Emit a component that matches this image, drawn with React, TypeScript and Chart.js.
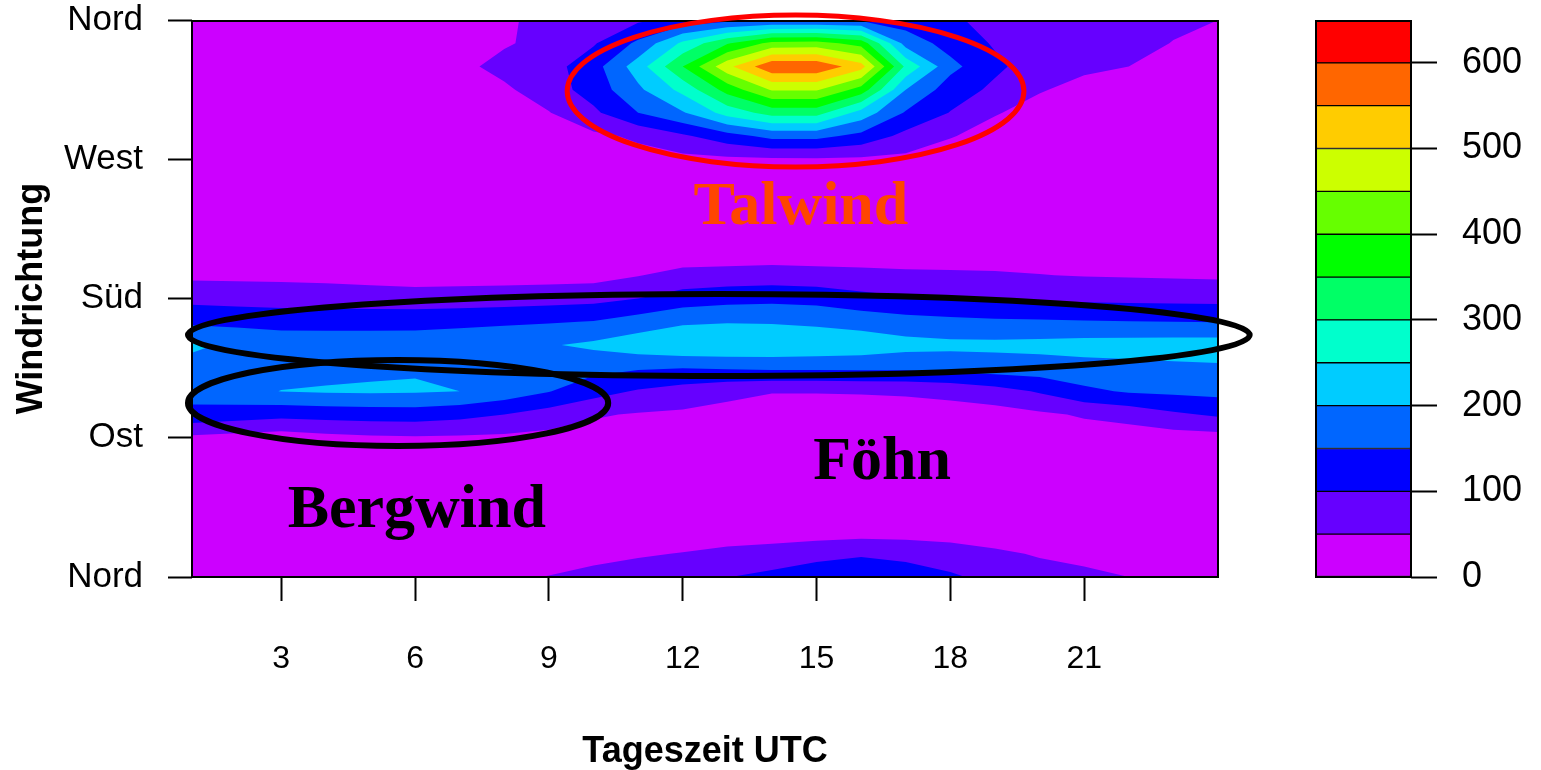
import { useEffect, useRef } from 'react';
import { Chart, registerables } from 'chart.js';

Chart.register(...registerables);

// Hour of day (UTC) on the horizontal axis
const hours = [1, 2, 3, 4, 5, 6, 7, 8, 9, 10, 11, 12, 13, 14, 15, 16, 17, 18, 19, 20, 21, 22, 23, 24];
// Wind direction rows in degrees (0 = Nord, 90 = Ost, 180 = Süd, 270 = West)
const directions = [0, 15, 30, 45, 60, 75, 90, 105, 120, 135, 150, 165, 180, 195, 210, 225, 240, 255, 270, 285, 300, 315, 330, 345, 360];

// Frequency counts per direction row, one value per hour
const d000 = [20, 20, 22, 25, 30, 35, 40, 45, 51, 60, 72, 88, 99, 112, 125, 132, 122, 106, 88, 72, 60, 50, 43, 38];
const d015 = [18, 18, 19, 21, 24, 27, 30, 32, 35, 40, 45, 52, 64, 72, 86, 95, 88, 78, 60, 45, 38, 32, 28, 25];
const d030 = [16, 16, 17, 18, 19, 20, 21, 22, 22, 21, 20, 20, 20, 21, 22, 25, 25, 20, 17, 17, 17, 17, 17, 17];
const d045 = [15, 15, 16, 17, 18, 19, 20, 20, 20, 20, 19, 19, 19, 19, 19, 20, 20, 19, 17, 16, 16, 16, 16, 16];
const d060 = [15, 14, 14, 14, 15, 15, 15, 15, 15, 14, 14, 14, 13, 13, 14, 15, 15, 15, 15, 15, 15, 15, 15, 15];
const d075 = [20, 18, 15, 17, 19, 20, 20, 20, 19, 18, 17, 16, 16, 16, 16, 18, 18, 19, 20, 20, 19, 19, 18, 18];
const d090 = [40, 32, 25, 35, 42, 45, 43, 40, 35, 30, 28, 25, 22, 20, 20, 22, 24, 28, 30, 33, 28, 25, 28, 31];
const d105 = [135, 125, 115, 120, 123, 125, 115, 100, 78, 55, 46, 42, 35, 30, 30, 31, 32, 32, 30, 42, 55, 68, 92, 107];
const d120 = [170, 185, 201, 205, 207, 205, 200, 180, 152, 120, 95, 79, 62, 52, 52, 53, 55, 62, 80, 105, 140, 155, 160, 165];
const d135 = [190, 188, 185, 185, 190, 196, 190, 182, 175, 165, 155, 150, 155, 158, 158, 160, 160, 168, 175, 178, 182, 186, 190, 193];
const d150 = [205, 195, 185, 182, 178, 175, 180, 188, 196, 210, 230, 245, 246, 245, 240, 232, 218, 212, 212, 215, 220, 222, 224, 225];
const d165 = [140, 135, 129, 130, 132, 135, 138, 142, 146, 152, 172, 192, 197, 195, 189, 180, 169, 163, 158, 156, 153, 151, 150, 148];
const d180 = [85, 82, 80, 77, 73, 70, 72, 76, 80, 85, 100, 123, 133, 137, 133, 116, 105, 100, 95, 92, 90, 88, 86, 85];
const d195 = [40, 39, 38, 36, 33, 30, 30, 30, 30, 32, 48, 65, 69, 72, 68, 63, 58, 56, 54, 51, 48, 46, 44, 42];
const d210 = [22, 21, 20, 19, 18, 18, 18, 19, 20, 20, 22, 20, 20, 22, 22, 24, 27, 30, 32, 32, 30, 28, 25, 22];
const d225 = [14, 14, 14, 14, 15, 15, 15, 16, 16, 17, 17, 18, 18, 18, 18, 19, 19, 19, 19, 18, 18, 17, 17, 16];
const d240 = [12, 12, 12, 13, 13, 14, 15, 16, 17, 18, 19, 20, 21, 22, 22, 22, 21, 20, 19, 18, 17, 16, 15, 15];
const d255 = [12, 12, 13, 13, 14, 15, 16, 17, 18, 20, 22, 24, 26, 28, 28, 27, 25, 23, 21, 19, 18, 17, 16, 15];
const d270 = [12, 12, 13, 14, 15, 16, 18, 20, 24, 28, 32, 36, 40, 44, 45, 42, 38, 34, 30, 26, 23, 21, 19, 18];
const d285 = [14, 14, 15, 16, 18, 20, 22, 28, 34, 40, 58, 92, 130, 165, 165, 135, 85, 52, 38, 30, 26, 24, 22, 20];
const d300 = [15, 15, 16, 18, 20, 22, 26, 35, 48, 90, 150, 195, 270, 320, 320, 230, 145, 98, 52, 40, 33, 30, 27, 24];
const d315 = [18, 18, 20, 22, 25, 28, 32, 42, 75, 122, 190, 265, 370, 455, 455, 380, 200, 125, 90, 52, 42, 38, 33, 28];
const d330 = [22, 22, 24, 26, 28, 32, 38, 65, 80, 130, 225, 350, 486, 590, 590, 520, 290, 165, 110, 75, 55, 50, 42, 35];
const d345 = [22, 22, 24, 27, 30, 34, 38, 45, 65, 95, 160, 260, 345, 415, 420, 380, 180, 130, 95, 80, 70, 60, 49, 40];
const d360 = [20, 20, 22, 25, 28, 32, 38, 45, 60, 80, 92, 115, 135, 145, 145, 140, 125, 105, 90, 75, 65, 60, 56, 50];

const counts = [
  d000, d015, d030, d045, d060, d075, d090, d105, d120, d135, d150, d165, d180,
  d195, d210, d225, d240, d255, d270, d285, d300, d315, d330, d345, d360,
];

// Contour levels and the fill colour of each band between them
const levels = [0, 50, 100, 150, 200, 250, 300, 350, 400, 450, 500, 550, 600, 650];
const bandColors = [
  '#CC00FF', '#6600FF', '#0000FF', '#0066FF', '#00CCFF', '#00FFCC', '#00FF66',
  '#00FF00', '#66FF00', '#CCFF00', '#FFCC00', '#FF6600', '#FF0000',
];

const hourTicks = [3, 6, 9, 12, 15, 18, 21];
const dirTicks = [0, 90, 180, 270, 360];
const dirNames = ['Nord', 'Ost', 'Süd', 'West', 'Nord'];
const scaleTicks = [0, 100, 200, 300, 400, 500, 600];

// Named wind regimes: label anchor (centre, baseline) in hour / degree units
const regimeNames = ['Talwind', 'Föhn', 'Bergwind'];
const regimeHours = [14.65, 16.47, 6.04];
const regimeDirs = [228.2, 63.3, 32.3];
const regimeColors = ['#FF4500', '#000000', '#000000'];

// Ellipses marking the regimes: centre and half-axes in hour / degree units
const ringHours = [14.53, 12.81, 5.62];
const ringDirs = [314.1, 156.4, 112.5];
const ringHalfHours = [5.12, 11.9, 4.71];
const ringHalfDirs = [49.1, 26.5, 27.8];
const ringColors = ['#FF0000', '#000000', '#000000'];
const ringWidths = [5, 6, 6];

const SANS = '"Liberation Sans", Arial, Helvetica, sans-serif';
const SERIF = '"Liberation Serif", "Times New Roman", serif';

const W = 1541;
const H = 770;
const MAIN_W = 1260;
const PLOT_LEFT = 192;
const PLOT_RIGHT = 1218;
const PLOT_TOP = 20;
const PLOT_BOTTOM = 577;
const KEY_LEFT = 1316;
const KEY_RIGHT = 1411;

// Fills the region value >= level for every level, lowest first (painter's order)
const filledContour = {
  id: 'filledContour',
  beforeDatasetsDraw(chart: any) {
    const { ctx, chartArea, scales } = chart;
    const px = hours.map((h) => scales.x.getPixelForValue(h));
    const py = directions.map((d) => scales.y.getPixelForValue(d));
    ctx.save();
    ctx.beginPath();
    ctx.rect(chartArea.left, chartArea.top, chartArea.right - chartArea.left, chartArea.bottom - chartArea.top);
    ctx.clip();
    for (let k = 0; k < bandColors.length; k++) {
      const L = levels[k];
      ctx.fillStyle = bandColors[k];
      ctx.beginPath();
      for (let j = 0; j < directions.length - 1; j++) {
        for (let i = 0; i < hours.length - 1; i++) {
          const corners = [[i, j], [i + 1, j], [i + 1, j + 1], [i, j + 1]];
          const pts: number[][] = [];
          for (let c = 0; c < 4; c++) {
            const [ia, ja] = corners[c];
            const [ib, jb] = corners[(c + 1) % 4];
            const va = counts[ja][ia];
            const vb = counts[jb][ib];
            if (va >= L) pts.push([px[ia], py[ja]]);
            if ((va >= L) !== (vb >= L)) {
              const t = (L - va) / (vb - va);
              pts.push([px[ia] + t * (px[ib] - px[ia]), py[ja] + t * (py[jb] - py[ja])]);
            }
          }
          if (pts.length >= 3) {
            ctx.moveTo(pts[0][0], pts[0][1]);
            for (let p = 1; p < pts.length; p++) ctx.lineTo(pts[p][0], pts[p][1]);
            ctx.closePath();
          }
        }
      }
      ctx.fill();
    }
    ctx.restore();
  },
  afterDatasetsDraw(chart: any) {
    const { ctx, chartArea, scales } = chart;
    const x = scales.x;
    const y = scales.y;
    ctx.save();
    // frame around the plot
    ctx.strokeStyle = '#000';
    ctx.lineWidth = 2;
    ctx.strokeRect(chartArea.left, chartArea.top + 1, chartArea.right - chartArea.left, chartArea.bottom - chartArea.top - 1);
    // regime ellipses
    for (let r = 0; r < ringHours.length; r++) {
      const cx = x.getPixelForValue(ringHours[r]);
      const cy = y.getPixelForValue(ringDirs[r]);
      const rx = Math.abs(x.getPixelForValue(ringHours[r] + ringHalfHours[r]) - cx);
      const ry = Math.abs(y.getPixelForValue(ringDirs[r] + ringHalfDirs[r]) - cy);
      ctx.strokeStyle = ringColors[r];
      ctx.lineWidth = ringWidths[r];
      ctx.beginPath();
      ctx.ellipse(cx, cy, rx, ry, 0, 0, Math.PI * 2);
      ctx.stroke();
    }
    // regime names
    ctx.font = `bold 62px ${SERIF}`;
    ctx.textAlign = 'center';
    ctx.textBaseline = 'alphabetic';
    for (let r = 0; r < regimeNames.length; r++) {
      ctx.fillStyle = regimeColors[r];
      ctx.fillText(regimeNames[r], x.getPixelForValue(regimeHours[r]), y.getPixelForValue(regimeDirs[r]));
    }
    ctx.restore();
  },
};

// Black frame around the colour key
const keyFrame = {
  id: 'keyFrame',
  afterDatasetsDraw(chart: any) {
    const { ctx, chartArea } = chart;
    ctx.save();
    ctx.strokeStyle = '#000';
    ctx.lineWidth = 2;
    ctx.strokeRect(chartArea.left, chartArea.top + 1, chartArea.right - chartArea.left, chartArea.bottom - chartArea.top - 1);
    ctx.restore();
  },
};

// Keeps edge tick labels from pushing the plot area inwards
const noEdgePadding = (s: any) => {
  s.paddingTop = 0;
  s.paddingBottom = 0;
  s.paddingLeft = 0;
  s.paddingRight = 0;
};

export default function App() {
  const mainRef = useRef<HTMLCanvasElement>(null);
  const keyRef = useRef<HTMLCanvasElement>(null);

  useEffect(() => {
    if (!mainRef.current || !keyRef.current) return;

    const main = new Chart(mainRef.current, {
      type: 'scatter',
      data: { datasets: [] },
      options: {
        animation: false,
        responsive: false,
        events: [],
        layout: { padding: { left: 0, top: PLOT_TOP, right: MAIN_W - PLOT_RIGHT, bottom: 0 } },
        plugins: { legend: { display: false }, tooltip: { enabled: false } },
        scales: {
          x: {
            type: 'linear',
            min: hours[0],
            max: hours[hours.length - 1],
            position: 'bottom',
            afterBuildTicks: (s: any) => {
              s.ticks = hourTicks.map((v) => ({ value: v }));
            },
            afterFit: (s: any) => {
              s.height = H - PLOT_BOTTOM;
              noEdgePadding(s);
            },
            grid: { drawOnChartArea: false, drawTicks: true, tickLength: 24, tickWidth: 2, tickColor: '#000' },
            border: { display: false },
            ticks: {
              color: '#000',
              font: { family: SANS, size: 32, lineHeight: 1 },
              padding: 42,
              maxRotation: 0,
              autoSkip: false,
              callback: (v: any) => String(v),
            },
            title: {
              display: true,
              text: 'Tageszeit UTC',
              color: '#000',
              font: { family: SANS, size: 36, weight: 'bold', lineHeight: 1 },
              padding: { top: 0, bottom: 0 },
            },
          },
          y: {
            type: 'linear',
            min: directions[0],
            max: directions[directions.length - 1],
            position: 'left',
            afterBuildTicks: (s: any) => {
              s.ticks = dirTicks.map((v) => ({ value: v }));
            },
            afterFit: (s: any) => {
              s.width = PLOT_LEFT;
              noEdgePadding(s);
            },
            grid: { drawOnChartArea: false, drawTicks: true, tickLength: 24, tickWidth: 2, tickColor: '#000' },
            border: { display: false },
            ticks: {
              color: '#000',
              font: { family: SANS, size: 35, lineHeight: 1 },
              padding: 25,
              autoSkip: false,
              callback: (_v: any, idx: number) => dirNames[idx],
            },
            title: {
              display: true,
              text: 'Windrichtung',
              color: '#000',
              font: { family: SANS, size: 36, weight: 'bold', lineHeight: 1 },
              padding: { top: 14, bottom: 0 },
            },
          },
        },
      },
      plugins: [filledContour],
    } as any);

    const bands = bandColors.map((color, k) => ({
      data: [[levels[k], levels[k + 1]]],
      backgroundColor: color,
      borderColor: '#000',
      borderWidth: 1,
      borderSkipped: false,
      barPercentage: 1,
      categoryPercentage: 1,
    }));

    const key = new Chart(keyRef.current, {
      type: 'bar',
      data: { labels: ['Anzahl'], datasets: bands },
      options: {
        animation: false,
        responsive: false,
        events: [],
        layout: { padding: { left: KEY_LEFT - MAIN_W, top: PLOT_TOP, right: 0, bottom: H - PLOT_BOTTOM } },
        plugins: { legend: { display: false }, tooltip: { enabled: false } },
        scales: {
          x: { display: false, stacked: true },
          y: {
            position: 'right',
            min: levels[0],
            max: levels[levels.length - 1],
            afterBuildTicks: (s: any) => {
              s.ticks = scaleTicks.map((v) => ({ value: v }));
            },
            afterFit: (s: any) => {
              s.width = W - KEY_RIGHT;
              noEdgePadding(s);
            },
            grid: { drawOnChartArea: false, drawTicks: true, tickLength: 26, tickWidth: 2, tickColor: '#000' },
            border: { display: false },
            ticks: {
              color: '#000',
              font: { family: SANS, size: 36, lineHeight: 1 },
              padding: 25,
              autoSkip: false,
              callback: (v: any) => String(v),
            },
          },
        },
      },
      plugins: [keyFrame],
    } as any);

    return () => {
      main.destroy();
      key.destroy();
    };
  }, []);

  return (
    <div style={{ position: 'absolute', left: 0, top: 0, width: W, height: H, background: '#fff' }}>
      <canvas ref={mainRef} width={MAIN_W} height={H} style={{ position: 'absolute', left: 0, top: 0 }} />
      <canvas ref={keyRef} width={W - MAIN_W} height={H} style={{ position: 'absolute', left: MAIN_W, top: 0 }} />
    </div>
  );
}
